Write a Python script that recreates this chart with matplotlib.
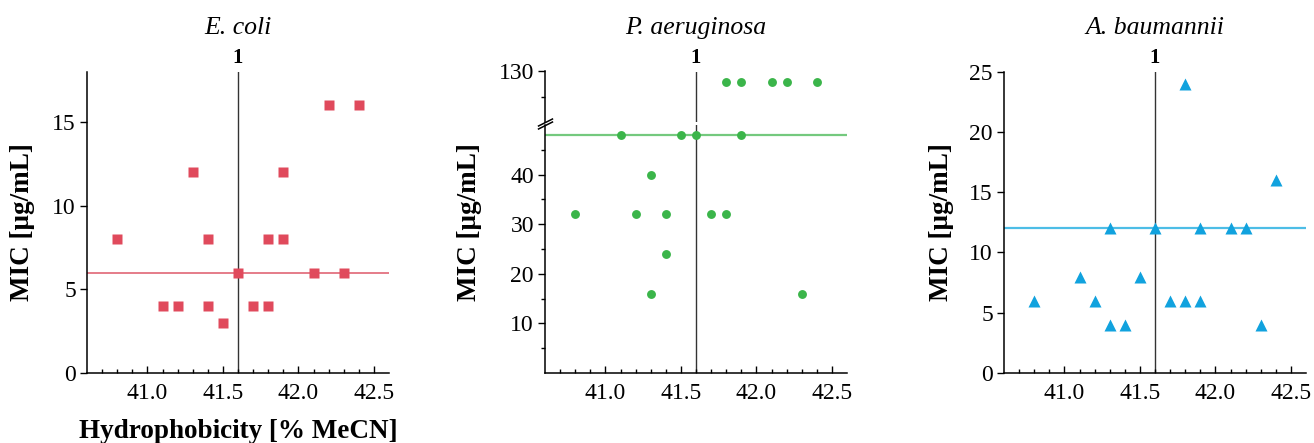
import matplotlib
matplotlib.use("Agg")
import matplotlib.pyplot as plt
from matplotlib.ticker import FixedLocator
import matplotlib.transforms as mtransforms

plt.rcParams['font.family'] = ['Liberation Serif', 'DejaVu Serif']

# ---------------- data ----------------
titles = ["E. coli", "P. aeruginosa", "A. baumannii"]
ref_label = "1"
ref_x = 41.6
ref_mic = [6, 48, 12]

ec_x = [40.8, 41.1, 41.2, 41.3, 41.4, 41.4, 41.5, 41.6, 41.7, 41.8, 41.8, 41.9, 41.9, 42.1, 42.2, 42.3, 42.4]
ec_y = [8, 4, 4, 12, 8, 4, 3, 6, 4, 8, 4, 12, 8, 6, 16, 6, 16]

pa_x = [40.8, 41.1, 41.2, 41.3, 41.3, 41.4, 41.4, 41.5, 41.6, 41.7, 41.8, 41.8, 41.9, 41.9, 42.1, 42.2, 42.3, 42.4]
pa_y = [32, 48, 32, 40, 16, 32, 24, 48, 48, 32, 32, 128, 48, 128, 128, 128, 16, 128]

ab_x = [40.8, 41.1, 41.2, 41.3, 41.3, 41.4, 41.5, 41.6, 41.7, 41.8, 41.8, 41.9, 41.9, 42.1, 42.2, 42.3, 42.4]
ab_y = [6, 8, 6, 12, 4, 4, 8, 12, 6, 24, 6, 12, 6, 12, 12, 4, 16]

x_ticks = [41.0, 41.5, 42.0, 42.5]
x_tick_labels = ["41.0", "41.5", "42.0", "42.5"]
ec_yticks = [0, 5, 10, 15]
pa_low_yticks = [10, 20, 30, 40]
pa_high_yticks = [130]
ab_yticks = [0, 5, 10, 15, 20, 25]

xlabel = "Hydrophobicity [% MeCN]"
ylabel = "MIC [μg/mL]"

# ---------------- style ----------------
red, red_line = "#E04A5C", "#E06676"
green, green_line = "#3BB54A", "#74C97E"
blue, blue_line = "#11A2DE", "#4DBDE6"
ref_color = "#333333"

W, H = 1314, 443
fig = plt.figure(figsize=(W / 100, H / 100), dpi=100)

def fx(px):
    return px / W

def fy(py):
    return (H - py) / H

TICK_FS = 17
LABEL_FS = 19.5
TITLE_FS = 18.5

def style_axes(ax, xaxis=True):
    for s in ("top", "right"):
        ax.spines[s].set_visible(False)
    ax.spines["left"].set_linewidth(1.1)
    ax.spines["bottom"].set_linewidth(1.1)
    ax.set_xlim(40.6, 42.6)
    if xaxis:
        ax.xaxis.set_major_locator(FixedLocator(x_ticks))
        ax.set_xticklabels(x_tick_labels)
        ax.xaxis.set_minor_locator(FixedLocator([round(40.7 + 0.1 * i, 1) for i in range(19)]))
        ax.tick_params(axis="x", which="major", direction="in", length=5, width=1, labelsize=TICK_FS, pad=7)
        ax.tick_params(axis="x", which="minor", direction="in", length=3, width=1)
    ax.tick_params(axis="y", which="major", direction="out", length=5, width=1, labelsize=TICK_FS, pad=3)
    ax.tick_params(axis="y", which="minor", direction="out", length=3, width=1)

bottom_px, top_px = 373, 71.5
size_px = 302
lefts = [87, 545, 1004]

# ---- panel 1: E. coli ----
ax1 = fig.add_axes([fx(lefts[0]), fy(bottom_px), size_px / W, (bottom_px - top_px) / H])
style_axes(ax1)
ax1.set_ylim(0, 18)
ax1.yaxis.set_major_locator(FixedLocator(ec_yticks))
ax1.axvline(ref_x, color=ref_color, lw=1, zorder=1)
ax1.axhline(ref_mic[0], color=red_line, lw=1.2, zorder=1)
ax1.plot(ec_x, ec_y, ls="none", marker="s", ms=7.9, mfc=red, mec="none", zorder=3)

# ---- panel 2: P. aeruginosa (broken axis) ----
low_top_px = 125
high_bot_px = 122
ax2 = fig.add_axes([fx(lefts[1]), fy(bottom_px), size_px / W, (bottom_px - low_top_px) / H])
ax2u = fig.add_axes([fx(lefts[1]), fy(high_bot_px), size_px / W, (high_bot_px - top_px) / H], sharex=ax2)
style_axes(ax2)
style_axes(ax2u, xaxis=False)
ax2.set_ylim(0, 50)
ax2.yaxis.set_major_locator(FixedLocator(pa_low_yticks))
ax2.yaxis.set_minor_locator(FixedLocator([5, 15, 25, 35, 45]))
ax2u.set_ylim(120, 130)
ax2u.yaxis.set_major_locator(FixedLocator(pa_high_yticks))
ax2u.yaxis.set_minor_locator(FixedLocator([125]))
ax2u.spines["bottom"].set_visible(False)
ax2u.tick_params(axis="x", which="both", bottom=False, labelbottom=False)
ax2u.patch.set_alpha(0)
for a in (ax2, ax2u):
    a.axvline(ref_x, color=ref_color, lw=1, zorder=1)
    a.axhline(ref_mic[1], color=green_line, lw=1.6, zorder=1)
    a.plot(pa_x, pa_y, ls="none", marker="o", ms=6.4, mfc=green, mec="none", zorder=3)
# break marks
kw = dict(marker=[(-1, -0.5), (1, 0.5)], markersize=11, linestyle="none",
          color="k", mec="k", mew=1.1, clip_on=False)
ax2.plot([0], [1], transform=ax2.transAxes, **kw)
ax2u.plot([0], [0], transform=ax2u.transAxes, **kw)

# ---- panel 3: A. baumannii ----
ax3 = fig.add_axes([fx(lefts[2]), fy(bottom_px), size_px / W, (bottom_px - top_px) / H])
style_axes(ax3)
ax3.set_ylim(0, 25)
ax3.yaxis.set_major_locator(FixedLocator(ab_yticks))
ax3.axvline(ref_x, color=ref_color, lw=1, zorder=1)
ax3.axhline(ref_mic[2], color=blue_line, lw=1.6, zorder=1)
ax3.plot(ab_x, ab_y, ls="none", marker="^", ms=8.7, mfc=blue, mec="none", zorder=3)

# ---- titles, "1" labels, axis labels ----
for left, title, top_ax in zip(lefts, titles, [ax1, ax2u, ax3]):
    fig.text(fx(left + size_px / 2), fy(28), title, ha="center", va="center",
             fontsize=TITLE_FS, style="italic")
    trans = mtransforms.blended_transform_factory(top_ax.transData, fig.transFigure)
    top_ax.text(ref_x, fy(58), ref_label, transform=trans, ha="center", va="center",
                fontsize=15, fontweight="bold")

ylabel_x = [23, 470, 941]
for xp in ylabel_x:
    fig.text(fx(xp), fy(222), ylabel, rotation=90, ha="center", va="center",
             fontsize=LABEL_FS, fontweight="bold")

ax1.set_xlabel(xlabel, fontsize=LABEL_FS, fontweight="bold")
ax1.xaxis.set_label_coords(0.5, (bottom_px - 431) / (bottom_px - top_px))
ax1.xaxis.label.set_va("center")

fig.savefig("out.png", dpi=100)
